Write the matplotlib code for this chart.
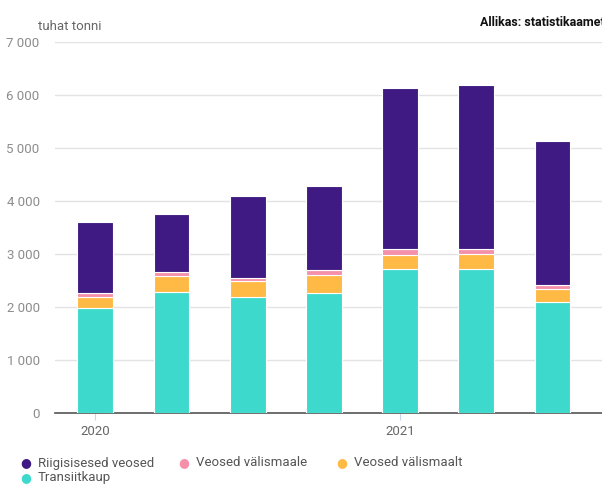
import numpy as np
import matplotlib.pyplot as plt

plt.rcParams['font.family'] = ['Roboto', 'DejaVu Sans']

periods = ["2020 I", "2020 II", "2020 III", "2020 IV", "2021 I", "2021 II", "2021 III"]
transiit = [1980, 2280, 2185, 2260, 2710, 2710, 2090]
valismaalt = [210, 305, 305, 350, 265, 285, 245]
valismaale = [70, 70, 50, 80, 115, 100, 75]
riigisisesed = [1340, 1100, 1555, 1595, 3040, 3095, 2720]

series = [
    ("Transiitkaup", transiit, "#3dd9cc"),
    ("Veosed välismaalt", valismaalt, "#ffb945"),
    ("Veosed välismaale", valismaale, "#f590ab"),
    ("Riigisisesed veosed", riigisisesed, "#3f1a82"),
]

fig = plt.figure(figsize=(6.02, 4.84), dpi=100)
ax = fig.add_axes([55 / 602, 1 - 413 / 484, 547 / 602, 371 / 484])

x = np.arange(len(periods))
bottom = np.zeros(len(periods))
for name, vals, col in series:
    ax.bar(x, vals, 0.47, bottom=bottom, color=col, edgecolor="white", linewidth=0.8, zorder=3)
    bottom += np.array(vals)

ax.set_ylim(0, 7000)
ax.set_xlim(-0.53, 6.65)
ax.set_yticks(range(0, 7001, 1000))
ax.set_yticklabels([f"{v:,}".replace(",", " ") for v in range(0, 7001, 1000)])
ax.yaxis.grid(True, color="#e3e3e3", linewidth=1, zorder=0)
ax.tick_params(axis="y", length=0, labelsize=9.5, labelcolor="#8c8c8c", pad=11)
ax.set_xticks([0, 4])
ax.set_xticklabels(["2020", "2021"])
ax.tick_params(axis="x", length=5, color="#ccd6eb", labelsize=9.5, labelcolor="#666666")
for s in ["top", "right", "left"]:
    ax.spines[s].set_visible(False)
ax.spines["bottom"].set_color("#555555")
ax.spines["bottom"].set_linewidth(1.2)

fig.text(38 / 602, 1 - 27 / 484, "tuhat tonni", fontsize=9.5, color="#666666", va="center")
fig.text(1.005, 1 - 22 / 484, "Allikas: statistikaamet", fontsize=9, fontweight="bold",
         color="#111111", ha="right", va="center")

legend_items = [("Riigisisesed veosed", "#3f1a82"), ("Veosed välismaale", "#f590ab"),
                ("Veosed välismaalt", "#ffb945"), ("Transiitkaup", "#3dd9cc")]
pos = [(26, 463), (184, 463), (342, 463), (26, 478)]
for (name, col), (px, py) in zip(legend_items, pos):
    fig.text(px / 602, 1 - py / 484, "●", fontsize=9, color=col, va="center", ha="center",
             family="DejaVu Sans")
    fig.text((px + 12) / 602, 1 - py / 484, name, fontsize=9.5, color="#555555", va="center")

fig.savefig("out.png", dpi=100)
